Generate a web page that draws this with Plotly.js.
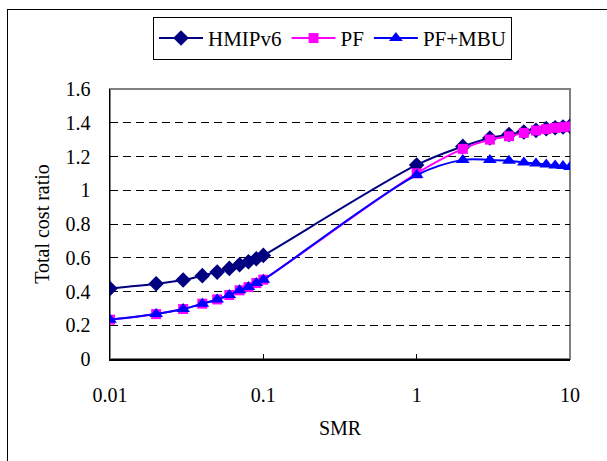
<!DOCTYPE html>
<html>
<head>
<meta charset="utf-8">
<script src="https://cdn.plot.ly/plotly-3.0.1.min.js"></script>
<style>
html,body{margin:0;padding:0;background:#fff;overflow:hidden;}
#chart{width:607px;height:461px;position:absolute;left:0;top:0;}
#frame{position:absolute;left:7px;top:9px;width:700px;height:600px;border:1px solid #000;pointer-events:none;}
</style>
</head>
<body>
<div id="chart"></div>
<div id="frame"></div>
<script>
const smr = [0.01,0.02,0.03,0.04,0.05,0.06,0.07,0.08,0.09,0.1,1,2,3,4,5,6,7,8,9,10];
const hmipv6 = [0.418,0.446,0.468,0.494,0.515,0.537,0.559,0.576,0.594,0.614,1.15,1.26,1.31,1.33,1.345,1.355,1.365,1.37,1.375,1.38];
const pf     = [0.233,0.266,0.296,0.328,0.353,0.379,0.407,0.426,0.45,0.47,1.10,1.245,1.30,1.32,1.34,1.354,1.362,1.37,1.374,1.378];
const pfmbu  = [0.233,0.266,0.296,0.328,0.353,0.379,0.407,0.426,0.45,0.47,1.09,1.18,1.18,1.175,1.165,1.158,1.152,1.147,1.143,1.138];
const names = ['HMIPv6','PF','PF+MBU'];
const xTickVals = [0.01,0.1,1,10];
const xTickText = ['0.01','0.1','1','10'];

const font = {family:'"Liberation Serif", "Times New Roman", serif', size:20, color:'#000'};
const legFont = {family:'"Liberation Serif", "Times New Roman", serif', size:21, color:'#000'};

const traces = [
  {x:smr, y:hmipv6, name:names[0], type:'scatter', mode:'lines+markers',
   line:{color:'#000080', width:2, shape:'spline', smoothing:1},
   marker:{symbol:'diamond', size:12, color:'#000080'}},
  {x:smr, y:pf, name:names[1], type:'scatter', mode:'lines+markers',
   line:{color:'#FF00FF', width:2, shape:'spline', smoothing:1},
   marker:{symbol:'square', size:10, color:'#FF00FF'}},
  {x:smr, y:pfmbu, name:names[2], type:'scatter', mode:'lines+markers',
   line:{color:'#0000FF', width:2, shape:'spline', smoothing:1},
   marker:{symbol:'triangle-up', size:12, color:'#0000FF'}}
];

const layout = {
  width:607, height:461,
  margin:{l:110, r:37, t:89, b:102},
  paper_bgcolor:'#fff', plot_bgcolor:'#fff',
  font:font,
  showlegend:true,
  legend:{orientation:'h', x:0.0935, xanchor:'left', y:1.267, yanchor:'top',
          bordercolor:'#000', borderwidth:1, bgcolor:'#fff', font:legFont,
          itemwidth:44, tracegroupgap:0},
  xaxis:{type:'log', range:[-2,1], tickvals:xTickVals, ticktext:xTickText,
         showgrid:false, zeroline:false, showline:true, linecolor:'#000', linewidth:1.5,
         ticks:'inside', ticklen:5, tickcolor:'#000', ticklabelstandoff:17,
         tickfont:font, title:{text:'SMR', font:font, standoff:16}},
  yaxis:{range:[0,1.6], dtick:0.2, tick0:0,
         showgrid:true, gridcolor:'#000', griddash:'8px,5px', gridwidth:1,
         zeroline:false, showline:true, linecolor:'#000', linewidth:1.5,
         ticks:'', ticklabelstandoff:14,
         tickfont:font, title:{text:'Total cost ratio', font:font, standoff:10}},
  shapes:[{type:'rect', xref:'paper', yref:'paper', x0:0, x1:1, y0:0, y1:1,
           line:{color:'#808080', width:2}, layer:'below'}]
};

Plotly.newPlot('chart', traces, layout, {displayModeBar:false, staticPlot:true});
</script>
</body>
</html>
